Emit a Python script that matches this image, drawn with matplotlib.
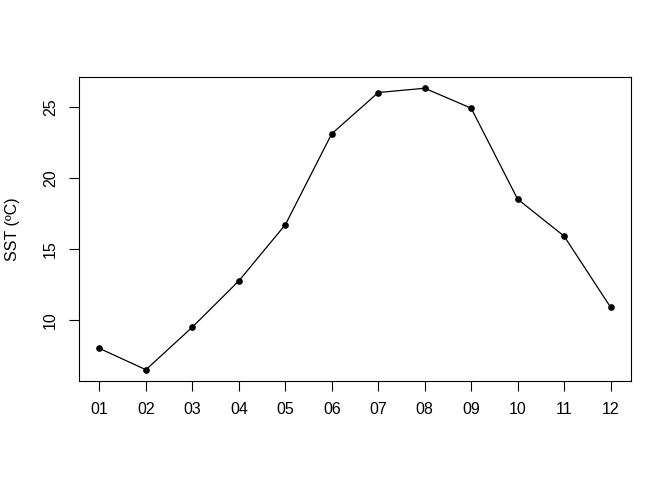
import matplotlib
matplotlib.use("Agg")
import matplotlib.pyplot as plt

months = ["01", "02", "03", "04", "05", "06", "07", "08", "09", "10", "11", "12"]
sst = [8.0, 6.5, 9.5, 12.75, 16.7, 23.1, 26.0, 26.3, 24.9, 18.5, 15.9, 10.9]

plt.rcParams["font.family"] = ["Liberation Sans", "DejaVu Sans"]

fig = plt.figure(figsize=(6.72, 4.8), dpi=100)
ax = fig.add_axes([79 / 672, 99 / 480, 552 / 672, 304 / 480])

x = list(range(1, len(months) + 1))
ax.plot(x, sst, color="black", lw=0.9, marker="o", ms=3.8)

lo, hi = min(sst), max(sst)
pad = (hi - lo) * 0.04
ax.set_ylim(lo - pad, hi + pad)
ax.set_xlim(0.56, 12.44)

ax.set_xticks(x)
ax.set_xticklabels(months)
ax.set_yticks([10, 15, 20, 25])
ax.set_yticklabels(["10", "15", "20", "25"], rotation=90, va="center")
ax.tick_params(direction="out", length=7, width=0.8, labelsize=11.5, pad=8)
for s in ax.spines.values():
    s.set_linewidth(0.8)

ax.set_ylabel("SST (ºC)", fontsize=11.5)
ax.yaxis.set_label_coords(-0.107, 0.5)

fig.savefig("out.png", dpi=100)
